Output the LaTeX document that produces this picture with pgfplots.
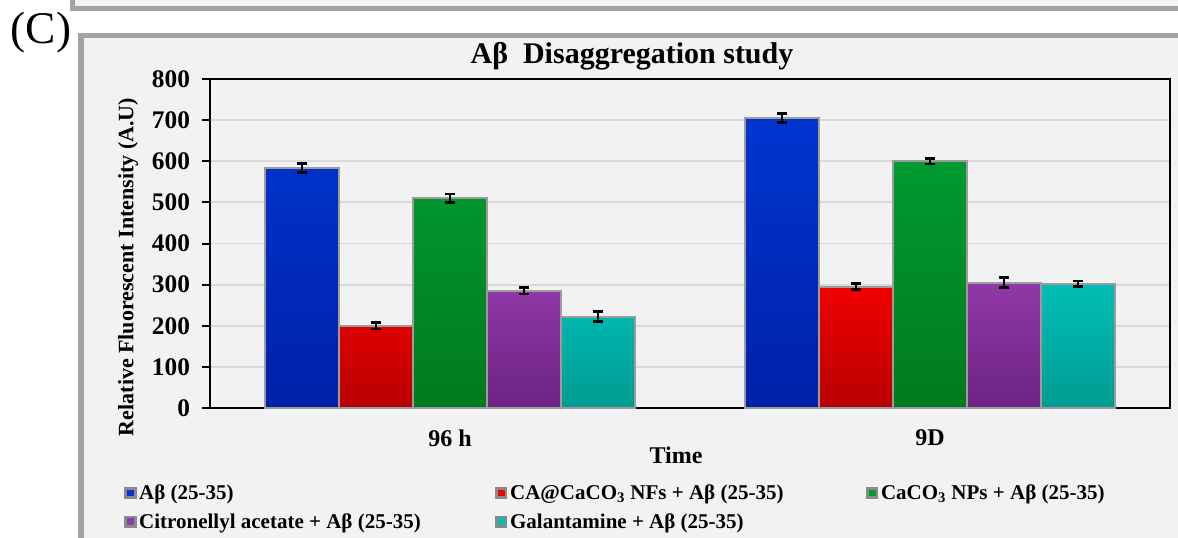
\documentclass[border=0pt]{standalone}
\usepackage{pgfplots}
\pgfplotsset{compat=1.18}
\usepackage{fontspec}
\setmainfont{Liberation Serif}

\definecolor{panelbg}{HTML}{F2F2F2}
\definecolor{framegray}{HTML}{A3A3A3}
\definecolor{gridgray}{HTML}{D9D9D9}
\definecolor{barborder}{HTML}{9C9C9C}
\definecolor{legsq}{HTML}{8A8A8A}
% series colours (light top / dark bottom)
\definecolor{blueT}{HTML}{0035D0}\definecolor{blueB}{HTML}{0020A8}
\definecolor{redT}{HTML}{F00000}\definecolor{redB}{HTML}{B80000}
\definecolor{greenT}{HTML}{009A30}\definecolor{greenB}{HTML}{007A1E}
\definecolor{purpT}{HTML}{9038A8}\definecolor{purpB}{HTML}{6C2482}
\definecolor{cyanT}{HTML}{00BEB6}\definecolor{cyanB}{HTML}{009C92}

% small square legend key, drawn at the basic layer so the bar shading is not applied
\newcommand{\legkey}[1]{%
  \pgfsetfillcolor{legsq}%
  \pgfpathrectangle{\pgfpoint{0pt}{-4.6pt}}{\pgfpoint{9.2pt}{9.2pt}}\pgfusepath{fill}%
  \pgfsetfillcolor{#1}%
  \pgfpathrectangle{\pgfpoint{2.1pt}{-2.5pt}}{\pgfpoint{5pt}{5pt}}\pgfusepath{fill}}

\newcommand{\legtxt}[1]{\makebox[265pt][l]{#1}}

\begin{document}
\begin{tikzpicture}
\path[use as bounding box] (0,0) rectangle (883.5pt,-403.5pt);
\begin{scope}[x=0.75pt,y=-0.75pt]
  \fill[white] (0,0) rectangle (1178,538);
  % lower edge of the panel above
  \fill[panelbg] (75,-2) rectangle (1180,8);
  \draw[framegray,line width=3.6pt] (72.5,-4) -- (72.5,8.6) -- (1185,8.6);
  % this panel
  \fill[panelbg] (81,35.5) rectangle (1185,545);
  \draw[framegray,line width=4pt] (81,548) -- (81,35.5) -- (1190,35.5);
  \node[font=\fontsize{34}{40}\selectfont, inner sep=0pt] at (41,33) {(C)};
  % chart title
  \node[font=\bfseries\fontsize{22.5}{26}\selectfont, inner sep=0pt, anchor=base] at (632,64) {Aβ\ \ Disaggregation study};
\end{scope}

\begin{axis}[
  at={(157.5pt,-306pt)}, anchor=south west,
  scale only axis, width=720pt, height=246.75pt,
  axis background/.style={fill=panelbg},
  xmin=-0.5, xmax=1.5, ymin=0, ymax=800,
  ybar=0pt, bar width=55.5pt,
  xtick={0,1}, xticklabels={96 h,9D},
  major x tick style={draw=none},
  extra x ticks={-0.5,0.5,1.5}, extra x tick labels={},
  extra x tick style={major tick length=6pt, tick style={draw=black, line width=1.5pt}},
  ytick={0,100,...,800},
  xtick pos=bottom, ytick pos=left,
  tick align=outside, major tick length=6pt,
  tick style={black, line width=1.5pt},
  axis line style={black, line width=1.5pt},
  ymajorgrids, grid style={gridgray, line width=1.4pt},
  /pgf/number format/assume math mode=true,
  y tick label style={font=\bfseries\fontsize{19}{22}\selectfont, xshift=-5.5pt},
  x tick label style={font=\bfseries\fontsize{18}{20}\selectfont, yshift=-7pt},
  xlabel={Time},
  xlabel style={font=\bfseries\fontsize{18}{20}\selectfont, at={(axis description cs:0.4854,-0.143)}, anchor=center},
  ylabel={Relative Fluorescent Intensity (A.U)},
  ylabel style={font=\bfseries\fontsize{16.5}{18}\selectfont, at={(axis description cs:-0.0854,0.4286)}, anchor=center},
  error bars/y dir=both, error bars/y explicit,
  error bars/error bar style={black, line width=2pt},
  error bars/error mark options={rotate=90, mark size=4pt, line width=2pt, black},
  legend columns=3, legend cell align=left,
  legend style={at={(axis description cs:-0.0896,-0.224)}, anchor=north west,
    draw=none, fill=none, inner sep=0pt, column sep=0pt, row sep=5pt,
    font=\bfseries\fontsize{15.75}{18}\selectfont},
]
\addplot[draw=barborder, line width=1.5pt, top color=blueT, bottom color=blueB,
  legend image code/.code={\legkey{blueT}}]
  coordinates {(0,583) +- (0,11) (1,705) +- (0,11)};
\addlegendentry{\legtxt{Aβ (25-35)}}
\addplot[draw=barborder, line width=1.5pt, top color=redT, bottom color=redB,
  legend image code/.code={\legkey{redT}}]
  coordinates {(0,200) +- (0,8) (1,295) +- (0,7)};
\addlegendentry{\legtxt{CA@CaCO\textsubscript{3} NFs + Aβ (25-35)}}
\addplot[draw=barborder, line width=1.5pt, top color=greenT, bottom color=greenB,
  legend image code/.code={\legkey{greenT}}]
  coordinates {(0,510) +- (0,10) (1,600) +- (0,7)};
\addlegendentry{\legtxt{CaCO\textsubscript{3} NPs + Aβ (25-35)}}
\addplot[draw=barborder, line width=1.5pt, top color=purpT, bottom color=purpB,
  legend image code/.code={\legkey{purpT}}]
  coordinates {(0,285) +- (0,8) (1,305) +- (0,12)};
\addlegendentry{\legtxt{Citronellyl acetate + Aβ (25-35)}}
\addplot[draw=barborder, line width=1.5pt, top color=cyanT, bottom color=cyanB,
  legend image code/.code={\legkey{cyanT}}]
  coordinates {(0,222) +- (0,12) (1,302) +- (0,7)};
\addlegendentry{\legtxt{Galantamine + Aβ (25-35)}}
\end{axis}
\end{tikzpicture}
\end{document}
